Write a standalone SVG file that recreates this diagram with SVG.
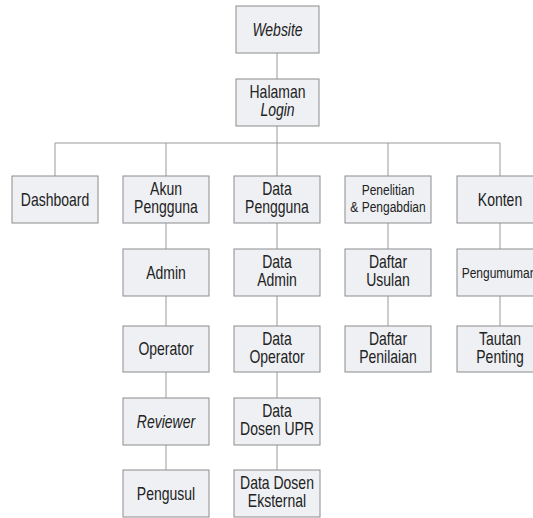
<svg xmlns="http://www.w3.org/2000/svg" width="533" height="518" viewBox="0 0 533 518">
<style>
.n rect{fill:#eef0f4;stroke:#8c8c8c;stroke-width:1}
.n text{font-family:"Liberation Sans",Arial,sans-serif;font-size:17.5px;fill:#222;text-anchor:middle}
.n text.s{font-size:15px}
.i{font-style:italic}
#connectors line{stroke:#9a9a9a;stroke-width:1}
</style>
<rect width="533" height="518" fill="#fff"/>
<g id="connectors">
<line x1="277" y1="53" x2="277" y2="79"/>
<line x1="277" y1="126" x2="277" y2="176"/>
<line x1="55" y1="143" x2="500" y2="143"/>
<line x1="55" y1="143" x2="55" y2="176"/>
<line x1="166" y1="143" x2="166" y2="176"/>
<line x1="388" y1="143" x2="388" y2="176"/>
<line x1="500" y1="143" x2="500" y2="176"/>
<line x1="166" y1="223" x2="166" y2="249"/>
<line x1="166" y1="296" x2="166" y2="326"/>
<line x1="166" y1="372" x2="166" y2="398"/>
<line x1="166" y1="445" x2="166" y2="470"/>
<line x1="277" y1="223" x2="277" y2="249"/>
<line x1="277" y1="296" x2="277" y2="326"/>
<line x1="277" y1="372" x2="277" y2="398"/>
<line x1="277" y1="445" x2="277" y2="470"/>
<line x1="388" y1="223" x2="388" y2="249"/>
<line x1="388" y1="296" x2="388" y2="326"/>
<line x1="500" y1="223" x2="500" y2="249"/>
<line x1="500" y1="296" x2="500" y2="326"/>
</g>
<g id="website" class="n"><rect x="236" y="6" width="83" height="47"/><text transform="translate(277.5 35.5) scale(0.8 1)" class="i">Website</text></g>
<g id="login" class="n"><rect x="236" y="79" width="83" height="47"/><text transform="translate(277.5 98) scale(0.8 1)">Halaman</text><text transform="translate(277.5 116) scale(0.8 1)" class="i">Login</text></g>
<g id="dashboard" class="n"><rect x="12" y="176" width="86" height="47"/><text transform="translate(55 205.5) scale(0.8 1)">Dashboard</text></g>
<g id="akun" class="n"><rect x="123" y="176" width="86" height="47"/><text transform="translate(166 195) scale(0.8 1)">Akun</text><text transform="translate(166 213) scale(0.8 1)">Pengguna</text></g>
<g id="datapengguna" class="n"><rect x="234" y="176" width="86" height="47"/><text transform="translate(277 195) scale(0.8 1)">Data</text><text transform="translate(277 213) scale(0.8 1)">Pengguna</text></g>
<g id="penelitian" class="n"><rect x="345" y="176" width="86" height="47"/><text transform="translate(388 195) scale(0.8 1)" class="s">Penelitian</text><text transform="translate(388 212) scale(0.8 1)" class="s">&amp; Pengabdian</text></g>
<g id="konten" class="n"><rect x="457" y="176" width="86" height="47"/><text transform="translate(500 205.5) scale(0.8 1)">Konten</text></g>
<g id="admin" class="n"><rect x="123" y="249" width="86" height="47"/><text transform="translate(166 278.5) scale(0.8 1)">Admin</text></g>
<g id="operator" class="n"><rect x="123" y="326" width="86" height="46"/><text transform="translate(166 355) scale(0.8 1)">Operator</text></g>
<g id="reviewer" class="n"><rect x="123" y="398" width="86" height="47"/><text transform="translate(166 427.5) scale(0.8 1)" class="i">Reviewer</text></g>
<g id="pengusul" class="n"><rect x="123" y="470" width="86" height="47"/><text transform="translate(166 499.5) scale(0.8 1)">Pengusul</text></g>
<g id="dataadmin" class="n"><rect x="234" y="249" width="86" height="47"/><text transform="translate(277 268) scale(0.8 1)">Data</text><text transform="translate(277 286) scale(0.8 1)">Admin</text></g>
<g id="dataoperator" class="n"><rect x="234" y="326" width="86" height="46"/><text transform="translate(277 345) scale(0.8 1)">Data</text><text transform="translate(277 363) scale(0.8 1)">Operator</text></g>
<g id="datadosenupr" class="n"><rect x="234" y="398" width="86" height="47"/><text transform="translate(277 417) scale(0.8 1)">Data</text><text transform="translate(277 435) scale(0.8 1)">Dosen UPR</text></g>
<g id="datadoseneksternal" class="n"><rect x="234" y="470" width="86" height="47"/><text transform="translate(277 489) scale(0.8 1)">Data Dosen</text><text transform="translate(277 507) scale(0.8 1)">Eksternal</text></g>
<g id="daftarusulan" class="n"><rect x="345" y="249" width="86" height="47"/><text transform="translate(388 268) scale(0.8 1)">Daftar</text><text transform="translate(388 286) scale(0.8 1)">Usulan</text></g>
<g id="daftarpenilaian" class="n"><rect x="345" y="326" width="86" height="46"/><text transform="translate(388 345) scale(0.8 1)">Daftar</text><text transform="translate(388 363) scale(0.8 1)">Penilaian</text></g>
<g id="pengumuman" class="n"><rect x="457" y="249" width="86" height="47"/><text transform="translate(499 278) scale(0.8 1)" class="s">Pengumuman</text></g>
<g id="tautan" class="n"><rect x="457" y="326" width="86" height="46"/><text transform="translate(500 345) scale(0.8 1)">Tautan</text><text transform="translate(500 363) scale(0.8 1)">Penting</text></g>
</svg>
